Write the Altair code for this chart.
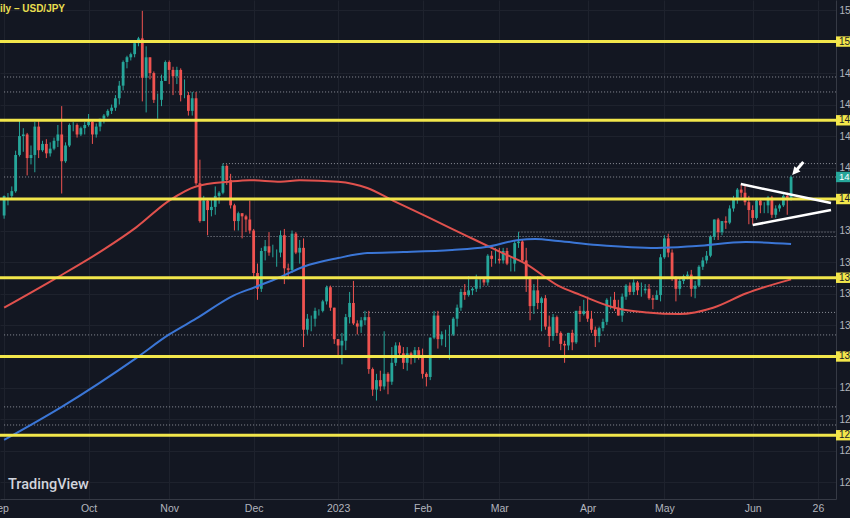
import altair as alt
import pandas as pd

# ---------------- data (USD/JPY daily, Sep 2022 - Jun 2023) ----------------
dates = pd.bdate_range("2022-09-01", "2023-06-15").strftime("%Y-%m-%d").tolist()

opens = [
    # Sep
    138.95, 140.20, 140.20, 140.50, 142.80, 144.00, 144.10, 142.60, 142.80, 144.60, 143.10,
    143.50, 142.90, 143.20, 143.70, 144.10, 142.40, 143.40, 144.70, 144.70, 144.10, 144.50,
    # Oct
    144.70, 144.90, 144.10, 144.60, 145.10, 145.30, 145.60, 145.80, 146.40, 147.20, 148.70,
    149.00, 149.20, 149.90, 150.20, 147.70, 149.00, 148.00, 146.30, 146.30, 147.50,
    # Nov
    148.70, 148.20, 147.80, 148.20, 146.60, 146.60, 145.60, 146.40, 141.00, 138.60, 139.90,
    139.30, 139.50, 140.20, 140.40, 142.10, 141.20, 139.60, 138.60, 139.10, 138.90, 138.70,
    # Dec
    138.00, 135.30, 134.30, 136.70, 137.00, 136.60, 136.60, 136.60, 137.70, 135.60, 135.50,
    137.80, 136.60, 136.90, 131.70, 132.40, 132.40, 132.90, 132.90, 133.50, 134.40, 133.10,
    # Jan
    131.10, 130.70, 131.00, 132.50, 133.40, 132.10, 131.90, 132.30, 132.50, 129.20, 127.90,
    128.50, 128.10, 128.90, 128.40, 129.60, 130.70, 130.20, 129.60, 130.20, 129.90, 130.40,
    # Feb
    130.10, 128.90, 128.70, 131.20, 132.60, 131.10, 131.40, 131.40, 131.40, 132.40, 133.10,
    134.10, 133.90, 134.20, 134.30, 134.90, 134.90, 134.70, 136.40, 136.20,
    # Mar
    136.20, 136.10, 136.70, 135.90, 135.90, 137.20, 137.30, 136.10, 135.00, 133.20, 134.20,
    133.40, 133.70, 131.90, 131.30, 132.50, 131.50, 130.80, 130.70, 131.50, 130.90, 132.90, 132.70,
    # Apr
    132.90, 132.40, 131.70, 131.30, 131.80, 132.20, 133.60, 133.60, 133.10, 132.60, 133.80,
    134.50, 134.10, 134.70, 134.20, 134.20, 134.30, 133.70, 133.60, 133.90,
    # May
    136.30, 137.50, 136.60, 135.00, 134.30, 134.80, 135.10, 135.20, 134.30, 134.50, 135.70,
    136.10, 136.40, 137.60, 138.70, 137.90, 138.60, 138.50, 139.40, 140.00, 140.60, 140.40, 139.80,
    # Jun
    139.30, 138.80, 139.90, 139.60, 139.60, 140.10, 139.00, 139.40, 139.60, 140.20, 140.00,
]
highs = [
    140.23, 140.38, 140.80, 143.07, 144.99, 144.50, 144.20, 143.40, 144.90, 144.95, 143.70,
    143.80, 143.60, 143.90, 144.70, 145.90, 143.60, 144.80, 144.90, 144.80, 144.60, 144.90,
    145.40, 145.00, 144.80, 145.10, 145.40, 145.70, 146.00, 146.60, 147.50, 148.80, 149.10,
    149.30, 149.90, 150.30, 151.95, 149.70, 149.00, 148.10, 146.70, 147.90, 148.80,
    148.80, 148.40, 148.40, 148.30, 147.60, 146.80, 146.80, 146.80, 142.50, 140.20, 140.00,
    140.00, 140.80, 140.50, 142.25, 142.20, 141.60, 139.70, 139.20, 139.10, 139.00, 139.90,
    138.10, 135.90, 136.90, 137.40, 137.90, 137.10, 136.80, 138.00, 138.10, 135.90, 138.00,
    137.90, 137.40, 137.50, 132.70, 132.60, 133.10, 133.00, 133.60, 134.50, 134.50, 133.10,
    131.10, 131.50, 132.70, 134.10, 134.80, 132.30, 132.50, 132.90, 132.90, 129.30, 128.90,
    129.10, 131.60, 129.00, 130.60, 130.90, 130.90, 130.60, 130.60, 130.30, 130.60, 130.60,
    130.50, 129.00, 131.20, 132.90, 132.90, 131.60, 131.70, 132.00, 132.50, 133.30, 134.30,
    134.60, 135.10, 134.40, 135.20, 135.00, 135.00, 136.50, 136.70, 136.90,
    136.90, 136.90, 136.90, 136.30, 137.40, 137.90, 137.40, 136.90, 135.10, 134.60, 135.10,
    133.80, 133.90, 132.60, 132.70, 132.60, 131.60, 131.00, 131.50, 131.70, 132.90, 133.20, 133.60,
    133.80, 132.90, 131.90, 131.90, 132.40, 133.70, 133.80, 134.10, 133.60, 134.00, 134.60,
    134.70, 134.90, 134.80, 134.70, 134.60, 134.60, 133.90, 134.20, 136.50,
    137.70, 137.80, 136.80, 135.10, 135.00, 135.20, 135.40, 135.50, 134.80, 135.80, 136.30,
    136.70, 137.70, 138.70, 138.80, 138.60, 138.90, 139.60, 140.20, 140.70, 140.90, 140.90, 140.20,
    139.60, 140.00, 140.00, 139.80, 140.20, 140.20, 139.60, 139.70, 140.30, 140.40, 141.50,
]
lows = [
    138.75, 139.60, 140.00, 140.40, 142.70, 143.00, 141.50, 142.20, 141.70, 142.60, 143.00,
    142.60, 142.70, 143.10, 143.30, 140.35, 142.30, 143.30, 144.30, 143.90, 144.00, 144.10,
    144.60, 143.50, 143.90, 144.30, 144.80, 145.20, 145.40, 145.60, 146.00, 146.90, 148.30,
    148.80, 149.00, 149.70, 146.20, 145.50, 147.60, 146.10, 145.10, 145.90, 147.50,
    147.30, 146.60, 147.30, 146.20, 146.40, 145.30, 145.30, 140.90, 138.50, 138.60, 137.70,
    138.90, 139.00, 139.70, 140.30, 140.90, 139.40, 138.00, 138.00, 137.50, 137.90, 137.80,
    135.00, 133.60, 134.10, 136.10, 136.40, 136.30, 135.70, 136.30, 134.60, 134.90, 135.30,
    136.50, 135.90, 130.60, 131.40, 131.60, 131.90, 132.60, 132.80, 133.30, 132.90, 130.80,
    129.90, 129.50, 130.40, 132.10, 132.00, 131.40, 131.50, 132.00, 128.90, 127.50, 127.20,
    127.80, 127.90, 127.60, 128.20, 129.40, 129.90, 129.20, 129.10, 129.50, 129.60, 129.80,
    128.60, 128.10, 128.50, 131.10, 130.50, 130.70, 130.60, 129.80, 131.30, 131.90, 132.90,
    133.60, 133.80, 133.90, 134.10, 134.30, 134.50, 134.50, 135.70, 135.90,
    135.90, 135.90, 135.80, 135.40, 135.40, 136.90, 136.00, 134.10, 132.30, 132.70, 133.00,
    131.60, 131.70, 130.60, 131.00, 131.30, 130.40, 129.60, 130.40, 130.40, 130.80, 132.20, 132.60,
    132.20, 131.50, 130.60, 130.90, 131.60, 132.00, 133.00, 132.90, 132.60, 132.20, 133.60,
    133.90, 133.90, 133.90, 133.80, 134.00, 133.60, 133.00, 133.60, 133.50,
    136.20, 136.30, 134.80, 133.50, 133.90, 134.60, 134.90, 133.80, 133.70, 134.40, 135.50,
    135.90, 136.30, 137.40, 137.40, 137.70, 138.10, 138.40, 139.20, 139.70, 140.10, 139.60, 138.40,
    138.40, 138.70, 139.10, 139.10, 139.10, 138.80, 138.80, 139.20, 139.50, 139.00, 139.90,
]
closes = [
    140.20, 140.20, 140.50, 142.80, 144.00, 144.10, 142.60, 142.80, 144.60, 143.10, 143.50,
    142.90, 143.20, 143.70, 144.10, 142.40, 143.40, 144.70, 144.70, 144.10, 144.50, 144.70,
    144.90, 144.10, 144.60, 145.10, 145.30, 145.60, 145.80, 146.40, 147.20, 148.70, 149.00,
    149.20, 149.90, 150.20, 147.70, 149.00, 148.00, 146.30, 146.30, 147.50, 148.70,
    148.20, 147.80, 148.20, 146.60, 146.60, 145.60, 146.40, 141.00, 138.60, 139.90, 139.30,
    139.50, 140.20, 140.40, 142.10, 141.20, 139.60, 138.60, 139.10, 138.90, 138.70, 138.00,
    135.30, 134.30, 136.70, 137.00, 136.60, 136.60, 136.60, 137.70, 135.60, 135.50, 137.80,
    136.60, 136.90, 131.70, 132.40, 132.40, 132.90, 132.90, 133.50, 134.40, 133.10, 131.10,
    130.70, 131.00, 132.50, 133.40, 132.10, 131.90, 132.30, 132.50, 129.20, 127.90, 128.50,
    128.10, 128.90, 128.40, 129.60, 130.70, 130.20, 129.60, 130.20, 129.90, 130.40, 130.10,
    128.90, 128.70, 131.20, 132.60, 131.10, 131.40, 131.40, 131.40, 132.40, 133.10, 134.10,
    133.90, 134.20, 134.30, 134.90, 134.90, 134.70, 136.40, 136.20, 136.20,
    136.10, 136.70, 135.90, 135.90, 137.20, 137.30, 136.10, 135.00, 133.20, 134.20, 133.40,
    133.70, 131.90, 131.30, 132.50, 131.50, 130.80, 130.70, 131.50, 130.90, 132.90, 132.70, 132.90,
    132.40, 131.70, 131.30, 131.80, 132.20, 133.60, 133.60, 133.10, 132.60, 133.80, 134.50,
    134.10, 134.70, 134.20, 134.20, 134.30, 133.70, 133.60, 133.90, 136.30,
    137.50, 136.60, 135.00, 134.30, 134.80, 135.10, 135.20, 134.30, 134.50, 135.70, 136.10,
    136.40, 137.60, 138.70, 137.90, 138.60, 138.50, 139.40, 140.00, 140.60, 140.40, 139.80, 139.30,
    138.80, 139.90, 139.60, 139.60, 140.10, 139.00, 139.40, 139.60, 140.20, 140.00, 141.40,
]

# 100-day SMA (red): bar index / price
ma100_idx = [0, 13, 26, 34.4, 43, 50, 58.6, 64, 72, 77, 87, 94.6, 101.3, 110.8, 121, 129.6,
             135.8, 144.3, 150.2, 159, 167.5, 176, 184.7, 193.2, 205]
ma100_val = [133.1, 134.9, 136.8, 138.2, 139.9, 140.8, 141.1, 141.2, 141.1, 141.2, 141.1, 140.7,
             139.9, 138.8, 137.6, 136.6, 135.9, 134.5, 133.9, 133.1, 132.8, 132.7, 133.1, 134.0, 134.9]
# 200-day SMA (blue)
ma200_idx = [0, 15, 34.4, 43, 50, 60, 65.3, 72, 78, 87, 94.6, 104, 116.7, 125.5, 134, 138.4,
             144.3, 154.6, 170, 180.3, 193.2, 205]
ma200_val = [124.7, 126.8, 129.9, 131.4, 132.4, 133.9, 134.4, 135.05, 135.7, 136.25, 136.57,
             136.63, 136.76, 136.95, 137.4, 137.46, 137.33, 137.08, 136.89, 137.02, 137.27, 137.14]

# horizontal key levels (yellow)
levels = [150.0, 145.0, 140.0, 135.0, 130.0, 125.0]
# dotted horizontal rays: starting bar index and price
ray_start = [0, 0, 57, 0, 53, 134, 84, 93.5, 0, 0, 0]
ray_price = [147.75, 146.80, 142.25, 141.40, 137.62, 137.90, 134.45, 132.80, 131.37, 126.80, 125.65]

# triangle trend lines (bar index, price)
trend_i1 = [191.9, 195.0]
trend_p1 = [140.95, 138.35]
trend_i2 = [215.4, 215.4]
trend_p2 = [139.75, 139.30]

# arrow annotation (tail -> tip)
arrow_tail = (208.2, 142.35)
arrow_tip = (205.3, 141.52)

# x axis ticks
tick_dates = ["2022-09-01", "2022-10-03", "2022-11-01", "2022-12-01", "2023-01-02", "2023-02-01",
              "2023-03-01", "2023-04-03", "2023-05-01", "2023-06-01", "2023-06-26"]
tick_labels = ["Sep", "Oct", "Nov", "Dec", "2023", "Feb", "Mar", "Apr", "May", "Jun", "26"]
price_ticks = list(range(122, 153, 2))

# ---------------- styling ----------------
BG = "#131722"
UP = "#26a69a"
DOWN = "#ef5350"
YELLOW = "#f2e64b"
RED_MA = "#e0514d"
BLUE_MA = "#3b76d6"
GRID = "#1e222d"
AXIS_TXT = "#b2b5be"
FONT = "Liberation Sans Narrow, Liberation Sans, sans-serif"
W, H = 836, 499
X_DOMAIN = [0.23, 215.4]
Y_DOMAIN = [120.95, 152.64]

all_days = pd.bdate_range("2022-09-01", "2023-06-30").strftime("%Y-%m-%d").tolist()
tick_idx = [all_days.index(d) for d in tick_dates]
label_expr = " : ".join(f"datum.value == {k} ? '{lab}'" for k, lab in zip(tick_idx, tick_labels)) + " : ''"

df = pd.DataFrame({"i": list(range(len(closes))), "date": dates[:len(closes)],
                   "open": opens, "high": highs, "low": lows, "close": closes})

x_axis = alt.Axis(values=tick_idx, labelExpr=label_expr, title=None, grid=True, gridColor=GRID,
                  domainColor="#363a45", ticks=False, labelColor=AXIS_TXT, labelFont=FONT,
                  labelFontSize=10.5, labelPadding=4, labelOverlap=False, labelFlush=False,
                  labelOffset=alt.ConditionalAxisNumber(
                      condition={"test": f"datum.value == {tick_idx[0]}", "value": -5}, value=0))
y_axis = alt.Axis(orient="right", values=price_ticks, labelExpr="slice(format(datum.value, '.3f'), 0, 2)",
                  title=None, grid=True, gridColor=GRID, domainColor="#363a45", ticks=False,
                  labelColor=AXIS_TXT, labelFont=FONT, labelFontSize=10, labelPadding=3,
                  labelOverlap=False, labelFlush=False)


def X(field):
    return alt.X(f"{field}:Q", scale=alt.Scale(domain=X_DOMAIN, nice=False, zero=False), axis=x_axis)


def Y(field):
    return alt.Y(f"{field}:Q", scale=alt.Scale(domain=Y_DOMAIN, nice=False, zero=False), axis=y_axis)


candle_color = alt.condition("datum.close >= datum.open", alt.value(UP), alt.value(DOWN))

wicks = alt.Chart(df).mark_rule(strokeWidth=1, clip=True).encode(
    x=X("i"), y=Y("low"), y2="high", color=candle_color)
bodies = alt.Chart(df).mark_bar(width=2.8, clip=True).encode(
    x=X("i"), y=Y("open"), y2="close", color=candle_color)

ma100 = alt.Chart(pd.DataFrame({"i": ma100_idx, "v": ma100_val})).mark_line(
    color=RED_MA, strokeWidth=2, interpolate="monotone", clip=True).encode(x=X("i"), y=Y("v"))
ma200 = alt.Chart(pd.DataFrame({"i": ma200_idx, "v": ma200_val})).mark_line(
    color=BLUE_MA, strokeWidth=2, interpolate="monotone", clip=True).encode(x=X("i"), y=Y("v"))

rays = alt.Chart(pd.DataFrame({"start": ray_start, "price": ray_price})).mark_rule(
    color="#a3a6af", strokeDash=[1, 2], strokeWidth=1, opacity=0.85).encode(
    x=X("start"), x2=alt.value(W), y=Y("price"))

lv_df = pd.DataFrame({"level": levels})
yellow_lines = alt.Chart(lv_df).mark_rule(color=YELLOW, strokeWidth=3).encode(
    y=Y("level"), x=alt.value(0), x2=alt.value(W))

trend = alt.Chart(pd.DataFrame({"i1": trend_i1, "p1": trend_p1, "i2": trend_i2, "p2": trend_p2})).mark_rule(
    color="white", strokeWidth=2.5, clip=True).encode(x=X("i1"), x2="i2", y=Y("p1"), y2="p2")

arrow_df = pd.DataFrame({"ti": [arrow_tail[0]], "tp": [arrow_tail[1]],
                         "hi": [arrow_tip[0]], "hp": [arrow_tip[1]]})
arrow_shaft = alt.Chart(arrow_df).transform_calculate(
    si="datum.hi + 0.35 * (datum.ti - datum.hi)", sp="datum.hp + 0.35 * (datum.tp - datum.hp)"
).mark_rule(color="white", strokeWidth=3).encode(x=X("ti"), x2="si:Q", y=Y("tp"), y2="sp:Q")
arrow_head = alt.Chart(arrow_df).mark_point(
    shape="M0,0L0.925,-0.396L0.238,-0.978Z", size=320, filled=True, color="white", opacity=1,
    strokeWidth=0).encode(x=X("hi"), y=Y("hp"))

box_calc = dict(lo="datum.level - 0.33", hi="datum.level + 0.33",
                lab="slice(format(datum.level, '.3f'), 0, 2)")
yellow_boxes = alt.Chart(lv_df).transform_calculate(**box_calc).mark_rect(color=YELLOW).encode(
    x=alt.value(W), x2=alt.value(W + 16), y=Y("lo"), y2="hi:Q")
yellow_box_txt = alt.Chart(lv_df).transform_calculate(**box_calc).mark_text(
    align="left", baseline="middle", font=FONT, fontSize=10, color="#1b1e27").encode(
    x=alt.value(W + 3), y=Y("level"), text="lab:N")

last_df = pd.DataFrame({"level": [closes[-1]]})
price_box = alt.Chart(last_df).transform_calculate(**box_calc).mark_rect(color=UP).encode(
    x=alt.value(W), x2=alt.value(W + 16), y=Y("lo"), y2="hi:Q")
price_box_txt = alt.Chart(last_df).transform_calculate(**box_calc).mark_text(
    align="left", baseline="middle", font=FONT, fontSize=9.5, color="white").encode(
    x=alt.value(W + 3), y=Y("level"), text="lab:N")

title = alt.Chart(pd.DataFrame({"t": ["ily – USD/JPY"]})).mark_text(
    align="left", baseline="middle", font=FONT, fontSize=10, fontWeight="bold", color="#e9df4f").encode(
    x=alt.value(0), y=alt.value(9), text="t:N")
watermark = alt.Chart(pd.DataFrame({"t": ["TradingView"]})).mark_text(
    align="left", baseline="middle", font="Roboto", fontSize=14.5, fontWeight=500, color="#d1d4dc").encode(
    x=alt.value(8), y=alt.value(485), text="t:N")

chart = alt.layer(
    rays, wicks, bodies, ma100, ma200, yellow_lines, trend, arrow_shaft, arrow_head,
    yellow_boxes, yellow_box_txt, price_box, price_box_txt, title, watermark
).properties(
    width=W, height=H, background=BG,
    padding={"left": 0, "top": 0, "right": 850 - W, "bottom": 518 - H},
    autosize=alt.AutoSizeParams(type="none"),
).configure_view(stroke=None)

chart.save("out.html", embed_options={"renderer": "svg", "actions": False})
